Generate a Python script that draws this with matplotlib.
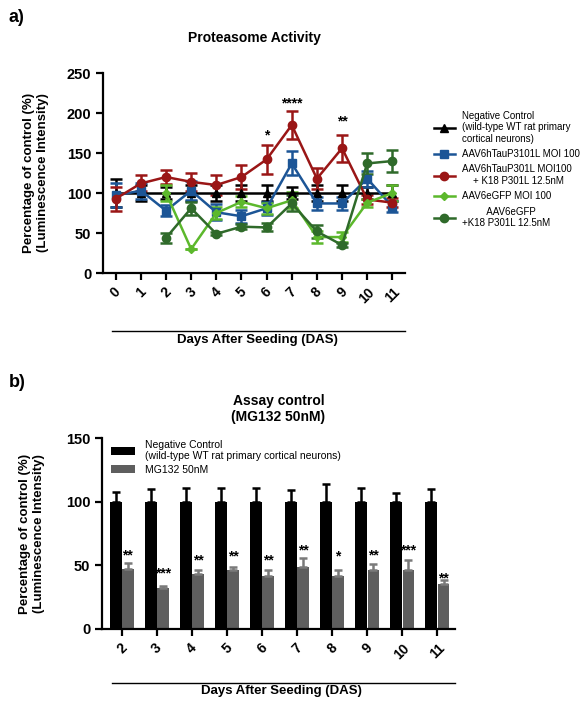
import numpy as np
import matplotlib
matplotlib.use("Agg")
from matplotlib import pyplot as plt
from matplotlib.lines import Line2D

plt.rcParams['font.family'] = ['Liberation Sans', 'DejaVu Sans']

# panel a) data
days_a = [0, 1, 2, 3, 4, 5, 6, 7, 8, 9, 10, 11]
neg_ctrl = [100, 100, 100, 100, 100, 100, 100, 100, 100, 100, 100, 100]
neg_err = [18, 10, 8, 10, 10, 10, 10, 8, 10, 10, 8, 10]
tau = [97, 103, 78, 103, 76, 71, 81, 137, 87, 87, 118, 83]
tau_err = [15, 10, 7, 12, 10, 8, 8, 15, 8, 8, 10, 7]
tau_k18 = [93, 112, 120, 114, 110, 120, 142, 185, 118, 156, 92, 88]
tau_k18_err = [15, 10, 9, 11, 13, 15, 18, 17, 13, 17, 6, 6]
days_gfp = [2, 3, 4, 5, 6, 7, 8, 9, 10, 11]
gfp = [100, 30, 75, 89, 81, 91, 45, 45, 88, 100]
gfp_err = [10, 0, 8, 7, 7, 10, 7, 6, 5, 10]
gfp_k18 = [44, 81, 49, 58, 57, 87, 52, 35, 137, 140]
gfp_k18_err = [6, 8, 2, 3, 5, 10, 8, 3, 13, 14]
stars_a = {6: '*', 7: '****', 9: '**'}
stars_a_y = {6: 172, 7: 212, 9: 190}

# panel b) data
days_b = [2, 3, 4, 5, 6, 7, 8, 9, 10, 11]
ctrl_b = [100, 100, 100, 100, 100, 100, 100, 100, 100, 100]
ctrl_b_err = [8, 10, 11, 11, 11, 9, 14, 11, 7, 10]
mg132 = [47, 32, 43, 46, 42, 49, 42, 46, 46, 35]
mg132_err = [4.5, 2, 3.5, 3, 4.7, 7, 4.7, 5, 8.4, 3.5]
stars_b = ['**', '***', '**', '**', '**', '**', '*', '**', '***', '**']
stars_b_y = [58, 44, 54, 57, 54, 62, 57, 58, 62, 40]

fig = plt.figure(figsize=(5.86, 7.02), dpi=100)

def style_axes(ax):
    for s in ['top', 'right']:
        ax.spines[s].set_visible(False)
    for s in ['left', 'bottom']:
        ax.spines[s].set_linewidth(1.6)
    ax.tick_params(axis='both', width=1.6, length=5, direction='out')
    for lab in ax.get_yticklabels():
        lab.set_fontweight('bold')
        lab.set_fontsize(10.5)
    for lab in ax.get_xticklabels():
        lab.set_fontweight('bold')
        lab.set_fontsize(10)
        lab.set_rotation(45)

# ---------- panel a ----------
ax1 = fig.add_axes([0.176, 0.611, 0.515, 0.285])
series = [
    (days_a, neg_ctrl, neg_err, 'black', '^', 'Negative Control\n(wild-type WT rat primary\ncortical neurons)'),
    (days_a, tau, tau_err, '#1c5596', 's', 'AAV6hTauP3101L MOI 100'),
    (days_a, tau_k18, tau_k18_err, '#9a1616', 'o', 'AAV6hTauP301L MOI100\n    + K18 P301L 12.5nM'),
    (days_gfp, gfp, gfp_err, '#5cb82c', 'D', 'AAV6eGFP MOI 100'),
    (days_gfp, gfp_k18, gfp_k18_err, '#2f6a2a', 'o', '         AAV6eGFP\n+K18 P301L 12.5nM'),
]
handles = []
for x, y, e, c, m, lab in series:
    ms = 4 if m == 'D' else 6
    ax1.errorbar(x, y, yerr=e, color=c, marker=m, markersize=ms, lw=1.8,
                 capsize=4, capthick=1.8, elinewidth=1.8)
    handles.append(Line2D([], [], color=c, marker=m, markersize=ms, lw=1.8, label=lab))
for d, s in stars_a.items():
    ax1.text(d, stars_a_y[d], s, ha='center', va='center', fontsize=10, fontweight='bold')
ax1.set_ylim(0, 250)
ax1.set_xlim(-0.5, 11.5)
ax1.set_yticks([0, 50, 100, 150, 200, 250])
ax1.set_xticks(days_a)
ax1.set_xticklabels([str(d) for d in days_a])
style_axes(ax1)
ax1.set_title('Proteasome Activity', fontsize=10, fontweight='bold', pad=22)
ax1.set_ylabel('Percentage of control (%)\n(Luminescence Intensity)', fontsize=9.5,
               fontweight='bold', labelpad=13)
ax1.plot([0.03, 1.0], [-0.29, -0.29], color='black', lw=1, transform=ax1.transAxes, clip_on=False)
ax1.text(0.51, -0.335, 'Days After Seeding (DAS)', transform=ax1.transAxes, ha='center',
         va='center', fontsize=9.5, fontweight='bold')
fig.legend(handles=handles, loc='upper left', bbox_to_anchor=(0.725, 0.855), frameon=False,
           fontsize=7, handlelength=2.2, labelspacing=0.55, handletextpad=0.7)
fig.text(0.015, 0.975, 'a)', fontsize=13, fontweight='bold', va='center')

# ---------- panel b ----------
ax2 = fig.add_axes([0.174, 0.104, 0.602, 0.272])
w = 0.34
xb = np.array(days_b)
ax2.bar(xb - w / 2 - 0.01, ctrl_b, width=w, color='black', yerr=[np.zeros(len(ctrl_b)), ctrl_b_err],
        error_kw=dict(ecolor='black', elinewidth=1.8, capsize=3, capthick=1.8),
        label='Negative Control\n(wild-type WT rat primary cortical neurons)')
ax2.bar(xb + w / 2 + 0.01, mg132, width=w, color='#5e5e5e', yerr=[np.zeros(len(mg132)), mg132_err],
        error_kw=dict(ecolor='#7a7a7a', elinewidth=1.8, capsize=3, capthick=1.8),
        label='MG132 50nM')
for x, y, s in zip(xb, stars_b_y, stars_b):
    ax2.text(x + w / 2, y, s, ha='center', va='center', fontsize=10, fontweight='bold')
ax2.set_ylim(0, 150)
ax2.set_xlim(1.43, 11.5)
ax2.set_yticks([0, 50, 100, 150])
ax2.set_xticks(days_b)
ax2.set_xticklabels([str(d) for d in days_b])
style_axes(ax2)
ax2.set_title('Assay control\n(MG132 50nM)', fontsize=10, fontweight='bold', pad=12)
ax2.set_ylabel('Percentage of control (%)\n(Luminescence Intensity)', fontsize=9.5,
               fontweight='bold', labelpad=15)
ax2.legend(loc='upper left', bbox_to_anchor=(0.0, 1.04), frameon=False, fontsize=7.5,
           handlelength=2.3, labelspacing=0.3, handletextpad=0.9)
ax2.plot([0.028, 1.0], [-0.283, -0.283], color='black', lw=1, transform=ax2.transAxes, clip_on=False)
ax2.text(0.51, -0.325, 'Days After Seeding (DAS)', transform=ax2.transAxes, ha='center',
         va='center', fontsize=9.5, fontweight='bold')
fig.text(0.015, 0.455, 'b)', fontsize=13, fontweight='bold', va='center')

fig.savefig('out.png', dpi=100)
